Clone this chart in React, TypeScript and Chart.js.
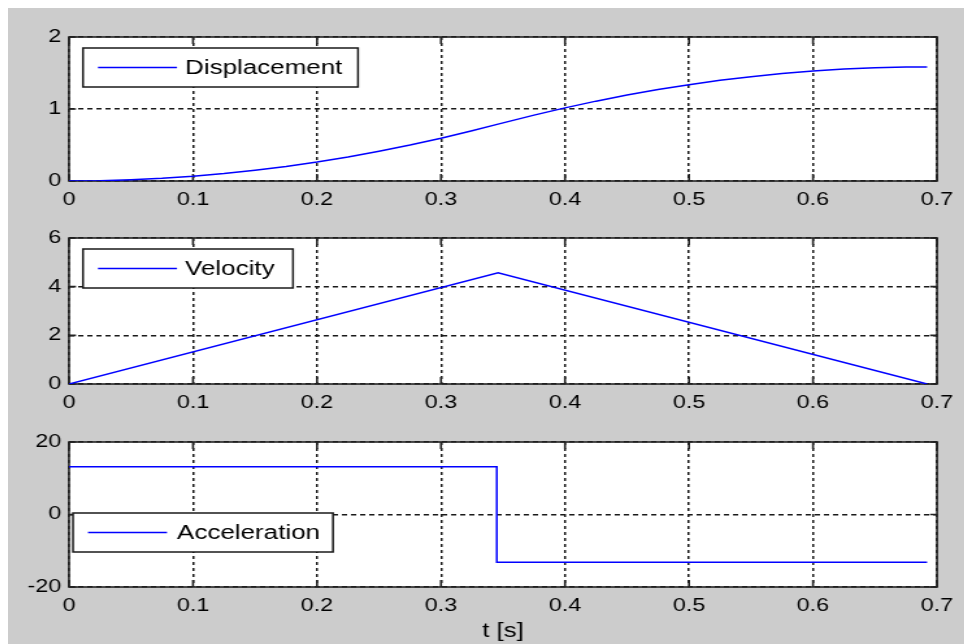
import React, { useEffect, useRef } from "react";
import { Chart, registerables } from "chart.js";

Chart.register(...registerables);

// ---- data ----
const X_TICKS = ["0", "0.1", "0.2", "0.3", "0.4", "0.5", "0.6", "0.7"];

const T_DISP = [0, 0.025, 0.05, 0.075, 0.1, 0.125, 0.15, 0.175, 0.2, 0.225, 0.25, 0.275, 0.3, 0.325, 0.346,
  0.375, 0.4, 0.425, 0.45, 0.475, 0.5, 0.525, 0.55, 0.575, 0.6, 0.625, 0.65, 0.675, 0.692];
const DISP = [0, 0.004, 0.017, 0.037, 0.066, 0.103, 0.149, 0.202, 0.264, 0.334, 0.413, 0.499, 0.594, 0.697, 0.79,
  0.915, 1.016, 1.109, 1.194, 1.27, 1.338, 1.398, 1.449, 1.492, 1.527, 1.554, 1.572, 1.583, 1.585];
const Y1_TICKS = ["0", "1", "2"];

const T_VEL = [0, 0.346, 0.692];
const VEL = [0, 4.57, 0];
const Y2_TICKS = ["0", "2", "4", "6"];

const T_ACC = [0, 0.345, 0.345, 0.692];
const ACC = [13.2, 13.2, -13.2, -13.2];
const Y3_TICKS = ["-20", "0", "20"];

// ---- layout ----
const CW = 964; // css width of every canvas
const RW = 742; // render width (stretched horizontally like the reference)
const SX = CW / RW;
const FONT = "'Liberation Sans', Arial, sans-serif";

const frameAndLegend = {
  id: "matlabFrame",
  beforeDraw(chart: any) {
    const { ctx, chartArea: a } = chart;
    ctx.save();
    ctx.fillStyle = "#ffffff";
    ctx.fillRect(a.left, a.top, a.right - a.left, a.bottom - a.top);
    ctx.restore();
  },
  beforeDatasetsDraw(chart: any) {
    const { ctx, chartArea: a, scales } = chart;
    ctx.save();
    ctx.strokeStyle = "#222222";
    ctx.lineWidth = 1.6;
    ctx.setLineDash([]);
    ctx.beginPath();
    const TLV = 7;
    const TLH = 7 / SX;
    scales.x.ticks.forEach((t: any) => {
      const px = scales.x.getPixelForValue(t.value);
      ctx.moveTo(px, a.bottom);
      ctx.lineTo(px, a.bottom - TLV);
      ctx.moveTo(px, a.top);
      ctx.lineTo(px, a.top + TLV);
    });
    scales.y.ticks.forEach((t: any) => {
      const py = scales.y.getPixelForValue(t.value);
      ctx.moveTo(a.left, py);
      ctx.lineTo(a.left + TLH, py);
      ctx.moveTo(a.right, py);
      ctx.lineTo(a.right - TLH, py);
    });
    ctx.stroke();
    ctx.strokeRect(a.left, a.top, a.right - a.left, a.bottom - a.top);
    ctx.restore();
  },
  afterDatasetsDraw(chart: any) {
    const o = chart.options.plugins.boxLegend;
    if (!o) return;
    const { ctx, chartArea: a } = chart;
    const x = a.left + o.dx / SX;
    const y = a.top + o.dy;
    const w = o.w / SX;
    const h = o.h;
    ctx.save();
    ctx.fillStyle = "#ffffff";
    ctx.fillRect(x, y, w, h);
    ctx.strokeStyle = "#1a1a1a";
    ctx.lineWidth = 1.5;
    ctx.setLineDash([]);
    ctx.strokeRect(x, y, w, h);
    ctx.strokeStyle = "#0000ff";
    ctx.lineWidth = 1.4;
    ctx.beginPath();
    ctx.moveTo(x + 15 / SX, y + h / 2);
    ctx.lineTo(x + 94 / SX, y + h / 2);
    ctx.stroke();
    ctx.fillStyle = "#000000";
    ctx.font = `20px ${FONT}`;
    ctx.textBaseline = "middle";
    ctx.textAlign = "left";
    ctx.fillText(o.label, x + o.tx / SX, y + h / 2 + 1);
    ctx.restore();
  },
};

function pts(ts: number[], vs: number[]) {
  return ts.map((t, i) => ({ x: t, y: vs[i] }));
}

function makeConfig(p: any): any {
  const xH = p.title ? 57 : 26;
  return {
    type: "line",
    data: {
      datasets: [
        {
          label: p.legend.label,
          data: pts(p.ts, p.vs),
          borderColor: "#0000ff",
          borderWidth: 1.5,
          pointRadius: 0,
          tension: 0,
          fill: false,
        },
      ],
    },
    options: {
      animation: false,
      responsive: false,
      devicePixelRatio: 1,
      events: [],
      layout: { padding: { left: 0, right: RW - 929 / SX, top: 20, bottom: 0 } },
      plugins: {
        legend: { display: false },
        tooltip: { enabled: false },
        boxLegend: p.legend,
      },
      scales: {
        x: {
          type: "linear",
          min: 0,
          max: 0.7,
          ticks: {
            stepSize: 0.1,
            autoSkip: false,
            maxRotation: 0,
            minRotation: 0,
            padding: 8,
            color: "#000000",
            font: { family: FONT, size: 18 },
            callback: (_v: any, i: number) => X_TICKS[i],
          },
          grid: { color: "#1a1a1a", lineWidth: 1.5, drawTicks: false },
          border: { display: false, dash: [3, 3] },
          title: p.title
            ? {
                display: true,
                text: p.title,
                color: "#000000",
                font: { family: FONT, size: 20 },
                padding: { top: 0, bottom: 1 },
              }
            : { display: false },
          afterFit: (s: any) => {
            s.height = xH;
          },
        },
        y: {
          type: "linear",
          min: p.yMin,
          max: p.yMax,
          ticks: {
            stepSize: p.yStep,
            padding: 6,
            color: "#000000",
            font: { family: FONT, size: 18 },
            callback: (_v: any, i: number) => p.yTicks[i],
          },
          grid: { color: "#1a1a1a", lineWidth: 1.5, drawTicks: false },
          border: { display: false, dash: [4, 3] },
          afterFit: (s: any) => {
            s.width = 61 / SX;
          },
        },
      },
    },
    plugins: [frameAndLegend],
  };
}

const PANELS = [
  {
    top: 10,
    height: 190,
    ts: T_DISP,
    vs: DISP,
    yMin: 0,
    yMax: 2,
    yStep: 1,
    yTicks: Y1_TICKS,
    legend: { label: "Displacement", dx: 14, dy: 11, w: 275, h: 39, tx: 102 },
  },
  {
    top: 211,
    height: 192,
    ts: T_VEL,
    vs: VEL,
    yMin: 0,
    yMax: 6,
    yStep: 2,
    yTicks: Y2_TICKS,
    legend: { label: "Velocity", dx: 14, dy: 11, w: 210, h: 39, tx: 102 },
  },
  {
    top: 415,
    height: 222,
    ts: T_ACC,
    vs: ACC,
    yMin: -20,
    yMax: 20,
    yStep: 20,
    yTicks: Y3_TICKS,
    legend: { label: "Acceleration", dx: 4, dy: 71, w: 260, h: 39, tx: 104 },
    title: "t [s]",
  },
];

function Panel({ cfg }: { cfg: any }) {
  const ref = useRef<HTMLCanvasElement | null>(null);
  useEffect(() => {
    if (!ref.current) return;
    const chart = new Chart(ref.current, makeConfig(cfg));
    return () => chart.destroy();
  }, [cfg]);
  return (
    <canvas
      ref={ref}
      width={RW}
      height={cfg.height}
      style={{
        position: "absolute",
        left: 0,
        top: cfg.top,
        width: CW + "px",
        height: cfg.height + "px",
      }}
    />
  );
}

export default function App() {
  return (
    <div
      style={{
        position: "relative",
        width: CW,
        height: 637,
        marginTop: -1,
        background: "#cccccc",
        overflow: "hidden",
      }}
    >
      {PANELS.map((p, i) => (
        <Panel key={i} cfg={p} />
      ))}
    </div>
  );
}
